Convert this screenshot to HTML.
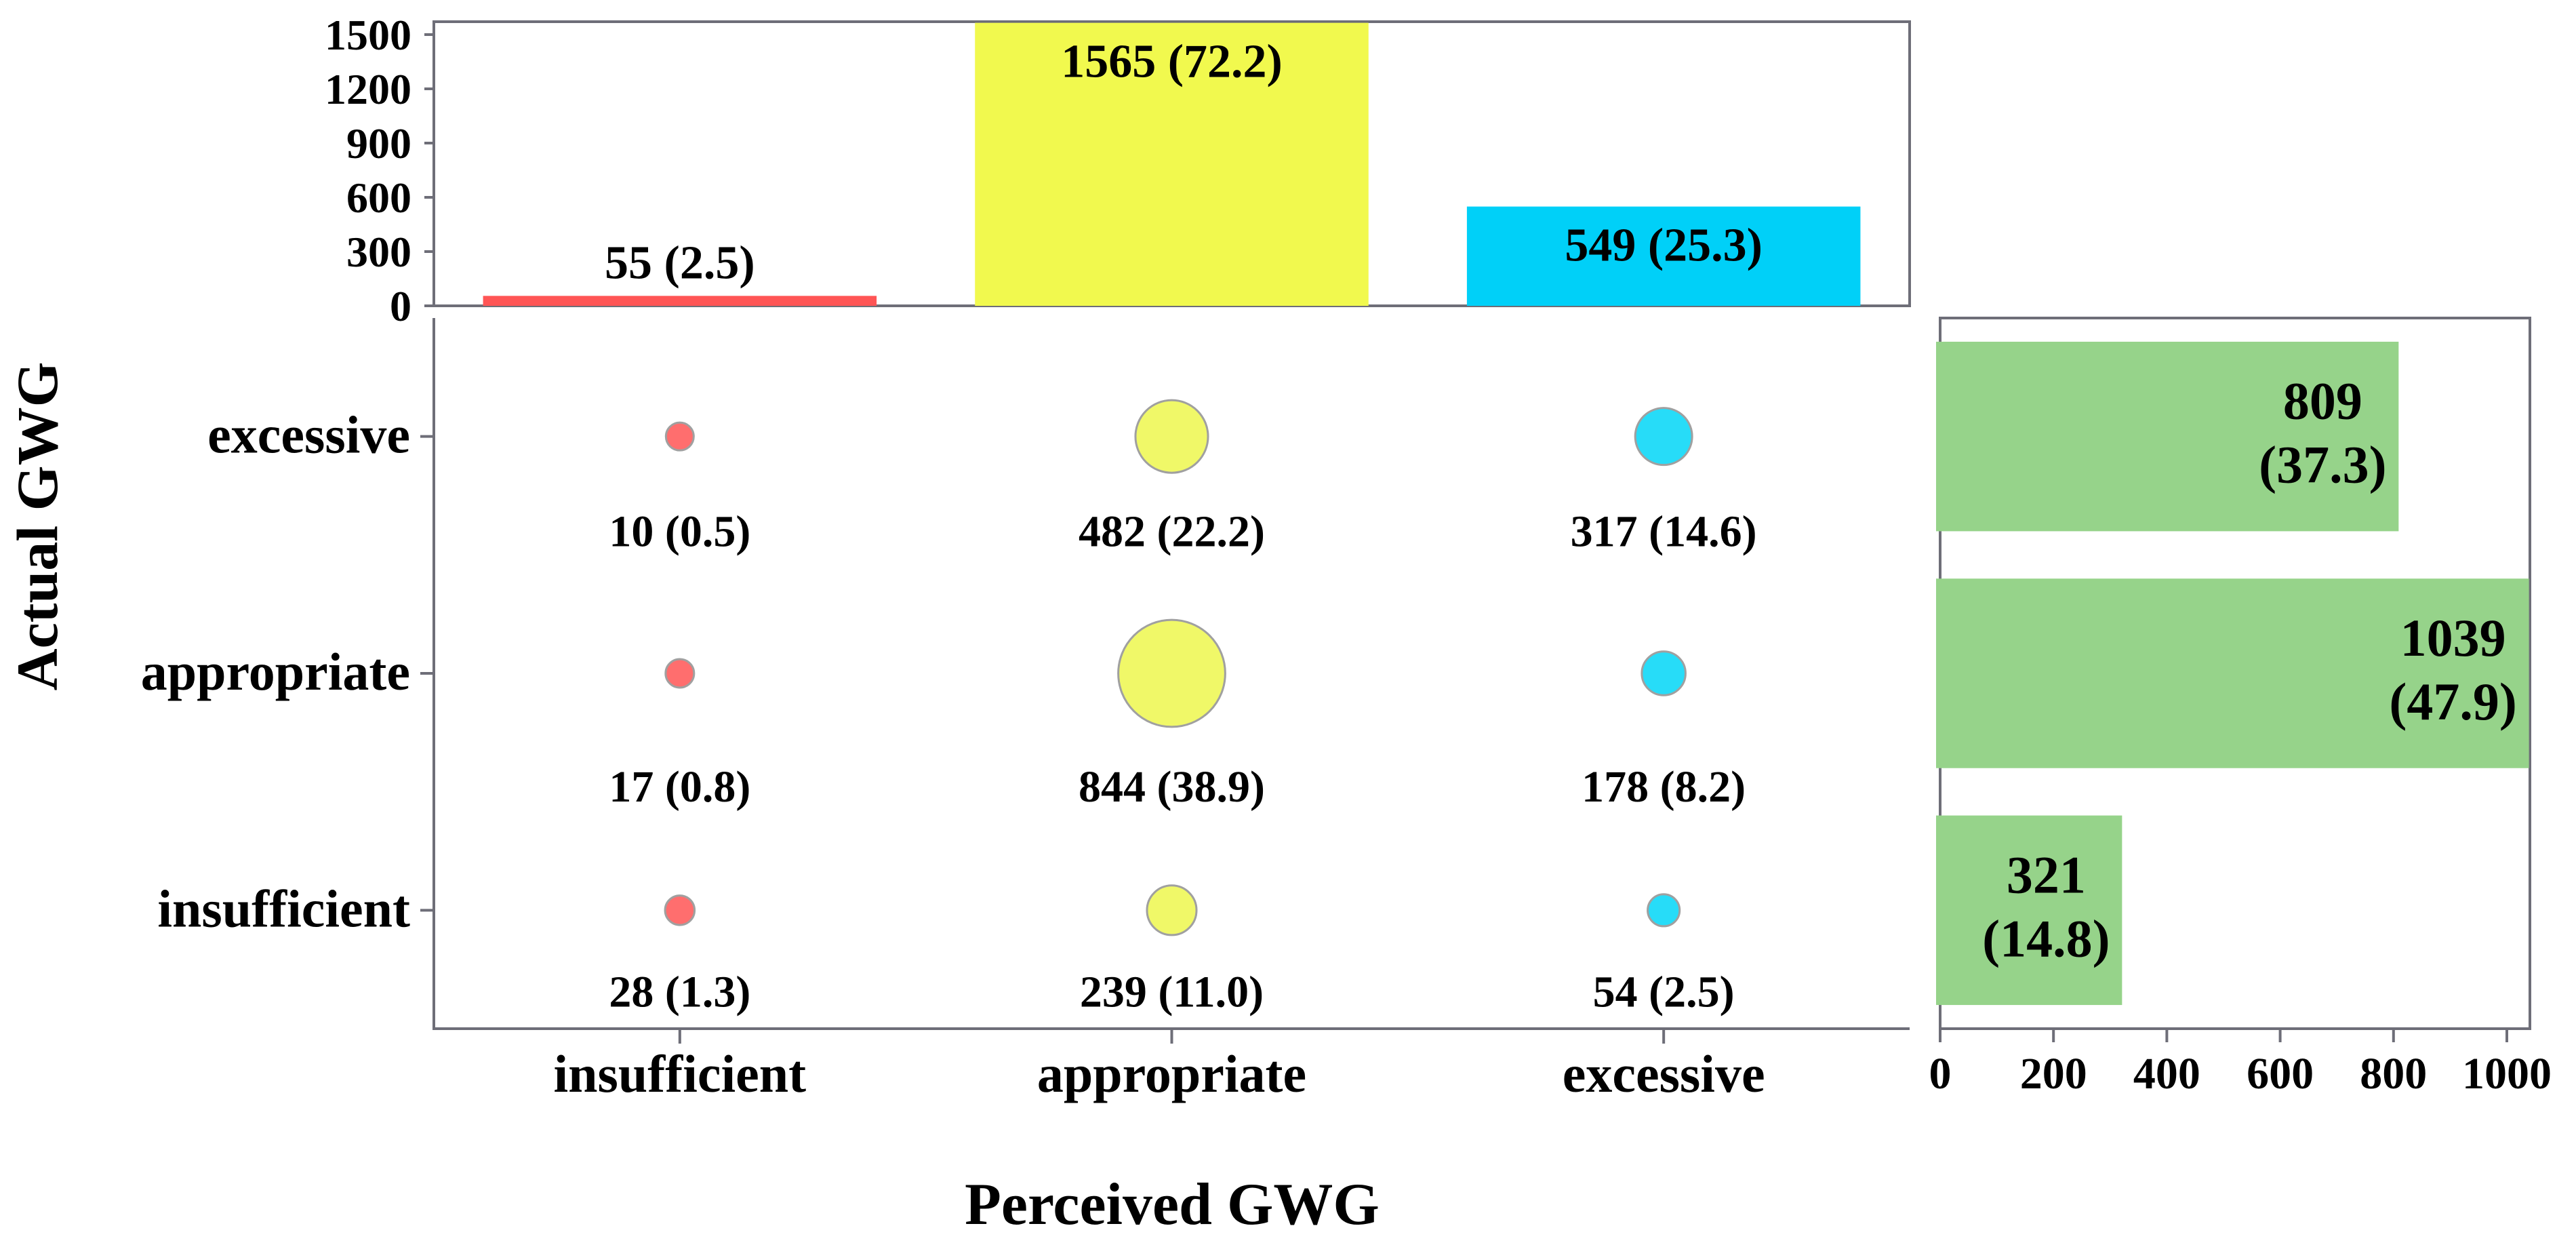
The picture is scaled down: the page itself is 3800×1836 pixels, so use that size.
<!DOCTYPE html>
<html><head><meta charset="utf-8"><style>html,body{margin:0;padding:0;background:#fff;}svg{display:block;}</style></head>
<body>
<svg id="chart" xmlns="http://www.w3.org/2000/svg" width="3800" height="1836" viewBox="0 0 3800 1836" font-family="'Liberation Serif', serif" font-weight="bold"></svg>
<script>
const perceived = ["insufficient", "appropriate", "excessive"];
const actual = ["excessive", "appropriate", "insufficient"];
const topCounts = [55, 1565, 549];
const topPct = ["2.5", "72.2", "25.3"];
const topTicks = [0, 300, 600, 900, 1200, 1500];
const rightCounts = [809, 1039, 321];
const rightPct = ["37.3", "47.9", "14.8"];
const rightTicks = [0, 200, 400, 600, 800, 1000];
// cell counts: rows = actual (excessive, appropriate, insufficient), cols = perceived
const cellCounts = [[10, 482, 317], [17, 844, 178], [28, 239, 54]];
const cellPct = [["0.5", "22.2", "14.6"], ["0.8", "38.9", "8.2"], ["1.3", "11.0", "2.5"]];

const svg = document.getElementById('chart');
const NS = 'http://www.w3.org/2000/svg';
function mk(tag, attrs, parent) {
  const e = document.createElementNS(NS, tag);
  for (const k in attrs) e.setAttribute(k, attrs[k]);
  (parent || svg).appendChild(e);
  return e;
}
const AX = '#6e6e78';
const barCols = ['#ff5555', '#f1f94e', '#00d0f8'];
const dotCols = ['#ff6e6e', '#f0f868', '#27dcf8'];
const rowLabelOffset = [162, 189, 142];

// layout
const L = 640, R = 2817, topT = 32, topB = 451, midT = 469, midB = 1517;
const bandW = (R - L) / 3;
const xCol = i => L + bandW * (i + 0.5);
const yTop = v => topB - v * (topB - 51) / 1500;
const bandH = (midB - midT) / 3;
const yRow = j => midT + bandH * (j + 0.5);
const RL = 2862, RR = 3732, RX0 = 2862;
const xR = v => RX0 + v * (3698 - 2862) / 1000;

// ---- top bar chart
let e = mk('rect', {x: L, y: topT, width: R - L, height: topB - topT, fill: 'none', stroke: AX, 'stroke-width': 4});


topTicks.forEach(t => {
  const y = yTop(t);
  let tk = mk('line', {x1: L - 14, x2: L, y1: y, y2: y, stroke: AX, 'stroke-width': 4});
  
  
  let tl = mk('text', {x: 607, y: y + 22, 'text-anchor': 'end', 'font-size': 64});
  tl.textContent = t;
  
  
});
topCounts.forEach((v, i) => {
  const w = bandW * 0.8, x = xCol(i) - w / 2;
  const yt = Math.max(yTop(v), topT);
  let b = mk('rect', {x: x, y: yt, width: w, height: topB - yt, fill: barCols[i]});
  
  
  const inside = (topB - yt) > 100;
  let t = mk('text', {x: xCol(i), y: inside ? yt + 80 : yt - 26, 'text-anchor': 'middle', 'font-size': 70});
  t.textContent = v + ' (' + topPct[i] + ')';
  
  
});

// ---- middle bubble matrix
e = mk('path', {d: `M${L} ${midT} V${midB} H${R}`, fill: 'none', stroke: AX, 'stroke-width': 4});


actual.forEach((a, j) => {
  const y = yRow(j);
  let tk = mk('line', {x1: L - 20, x2: L, y1: y, y2: y, stroke: AX, 'stroke-width': 4});
  
  
  let tl = mk('text', {x: 605, y: y + 24, 'text-anchor': 'end', 'font-size': 78});
  tl.textContent = a;
  
  
});
perceived.forEach((p, i) => {
  const x = xCol(i);
  let tk = mk('line', {x1: x, x2: x, y1: midB, y2: midB + 22, stroke: AX, 'stroke-width': 4});
  
  
  let tl = mk('text', {x: x, y: 1610, 'text-anchor': 'middle', 'font-size': 78});
  tl.textContent = p;
  
  
});
cellCounts.forEach((row, j) => {
  row.forEach((v, i) => {
    const d = 39.6 + 0.14 * v;
    let c = mk('circle', {cx: xCol(i), cy: yRow(j), r: d / 2, fill: dotCols[i], stroke: '#a0a0a0', 'stroke-width': 3});
    
    
    let t = mk('text', {x: xCol(i), y: yRow(j) + rowLabelOffset[j], 'text-anchor': 'middle', 'font-size': 66});
    t.textContent = v + ' (' + cellPct[j][i] + ')';
    
    
  });
});

// ---- right bar chart
e = mk('rect', {x: RL, y: midT, width: RR - RL, height: midB - midT, fill: 'none', stroke: AX, 'stroke-width': 4});


rightTicks.forEach(t => {
  const x = xR(t);
  let tk = mk('line', {x1: x, x2: x, y1: midB, y2: midB + 20, stroke: AX, 'stroke-width': 4});
  
  
  let tl = mk('text', {x: x, y: 1605, 'text-anchor': 'middle', 'font-size': 66});
  tl.textContent = t;
  
  
});
rightCounts.forEach((v, j) => {
  const h = bandH * 0.8, y = yRow(j) - h / 2;
  const x1 = xR(v);
  let b = mk('rect', {x: 2856, y: y, width: x1 - 2856, height: h, fill: '#96d38a'});
  
  
  const cx = x1 - 112;
  let t1 = mk('text', {x: cx, y: yRow(j) - 26, 'text-anchor': 'middle', 'font-size': 78});
  t1.textContent = v;
  
  
  let t2 = mk('text', {x: cx, y: yRow(j) + 68, 'text-anchor': 'middle', 'font-size': 78});
  t2.textContent = '(' + rightPct[j] + ')';
  
  
});

// ---- axis titles
e = mk('text', {x: 1729, y: 1805, 'text-anchor': 'middle', 'font-size': 88});
e.textContent = 'Perceived GWG';


e = mk('text', {x: 0, y: 0, 'text-anchor': 'middle', 'font-size': 86, transform: 'translate(84 776) rotate(-90)'});
e.textContent = 'Actual GWG';


</script>
</body></html>
